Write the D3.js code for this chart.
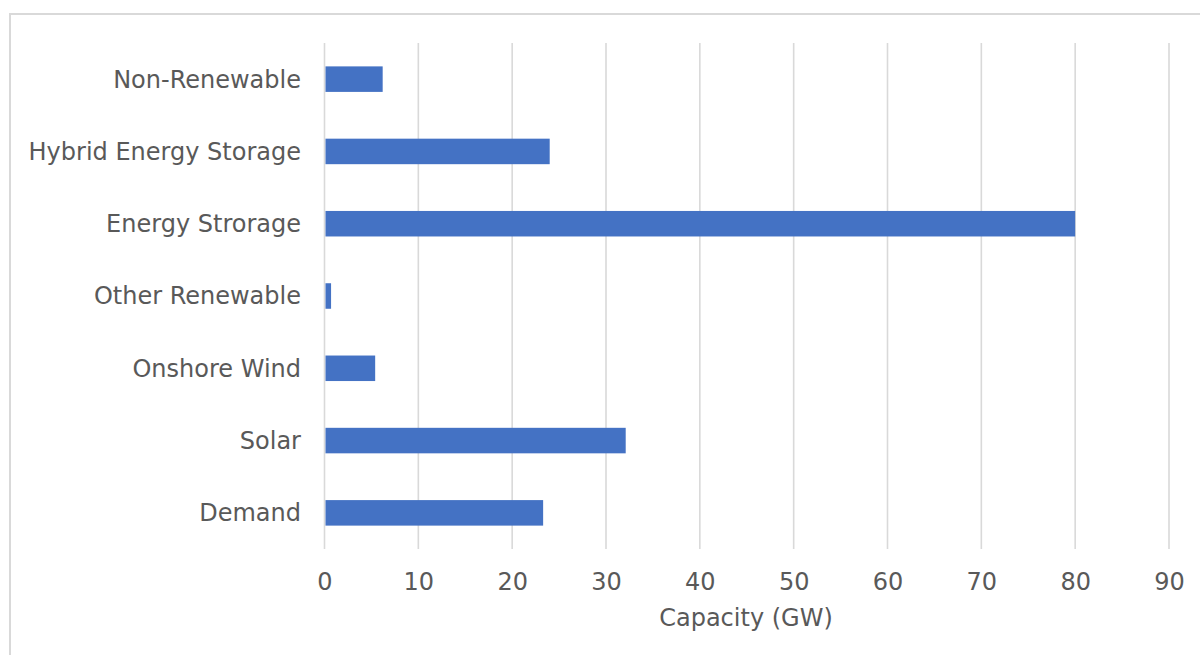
<!DOCTYPE html>
<html>
<head>
<meta charset="utf-8">
<script src="https://cdn.jsdelivr.net/npm/d3@7"></script>
<style>
  html, body { margin: 0; padding: 0; background: #ffffff; }
  svg { display: block; font-family: "DejaVu Sans", Verdana, sans-serif; }
</style>
</head>
<body>
<svg id="chart" width="1200" height="655"></svg>
<script>
// Capacity by resource type (GW), listed top to bottom
const categories = ["Non-Renewable", "Hybrid Energy Storage", "Energy Strorage", "Other Renewable", "Onshore Wind", "Solar", "Demand"];
const capacityGW = [6.2, 24.0, 80.0, 0.7, 5.4, 32.1, 23.3];
const xTicks = [0, 10, 20, 30, 40, 50, 60, 70, 80, 90];
const xTitle = "Capacity (GW)";

const textColor = "#595959";
const gridColor = "#d9d9d9";
const barColor = "#4472c4";

const svg = d3.select("#chart");

// chart frame
svg.append("rect")
  .attr("x", 10).attr("y", 14)
  .attr("width", 1230).attr("height", 700)
  .attr("fill", "none")
  .attr("stroke", gridColor)
  .attr("stroke-width", 2);

const x = d3.scaleLinear().domain([0, 90]).range([324.5, 1169]);
const y = d3.scaleBand().domain(categories).range([43, 549]).paddingInner(0.647).paddingOuter(0.3235);

// vertical gridlines
svg.append("g")
  .selectAll("line")
  .data(xTicks)
  .join("line")
  .attr("x1", d => x(d)).attr("x2", d => x(d))
  .attr("y1", 43).attr("y2", 549)
  .attr("stroke", gridColor)
  .attr("stroke-width", 1.6);

// bars
svg.append("g")
  .selectAll("rect")
  .data(categories.map((c, i) => ({ c, v: capacityGW[i] })))
  .join("rect")
  .attr("x", x(0) + 1)
  .attr("y", d => y(d.c))
  .attr("width", d => x(d.v) - x(0) - 1)
  .attr("height", y.bandwidth())
  .attr("fill", barColor);

// category axis labels
const yAxis = d3.axisLeft(y).tickSize(0).tickPadding(0);
const gy = svg.append("g").attr("transform", "translate(301,0)").call(yAxis);
gy.select(".domain").remove();
gy.selectAll("text")
  .attr("fill", textColor)
  .attr("font-size", 24)
  .attr("font-family", "DejaVu Sans, Verdana, sans-serif")
  .attr("dy", "0.35em");

// value axis labels
const xAxis = d3.axisBottom(x).tickValues(xTicks).tickSize(0).tickPadding(0);
const gx = svg.append("g").attr("transform", "translate(0,573)").call(xAxis);
gx.select(".domain").remove();
gx.selectAll("text")
  .attr("fill", textColor)
  .attr("font-size", 24)
  .attr("font-family", "DejaVu Sans, Verdana, sans-serif")
  .attr("dy", "0.71em");

// axis title
svg.append("text")
  .attr("x", 746).attr("y", 626)
  .attr("text-anchor", "middle")
  .attr("fill", textColor)
  .attr("font-size", 24)
  .text(xTitle);
</script>
</body>
</html>
